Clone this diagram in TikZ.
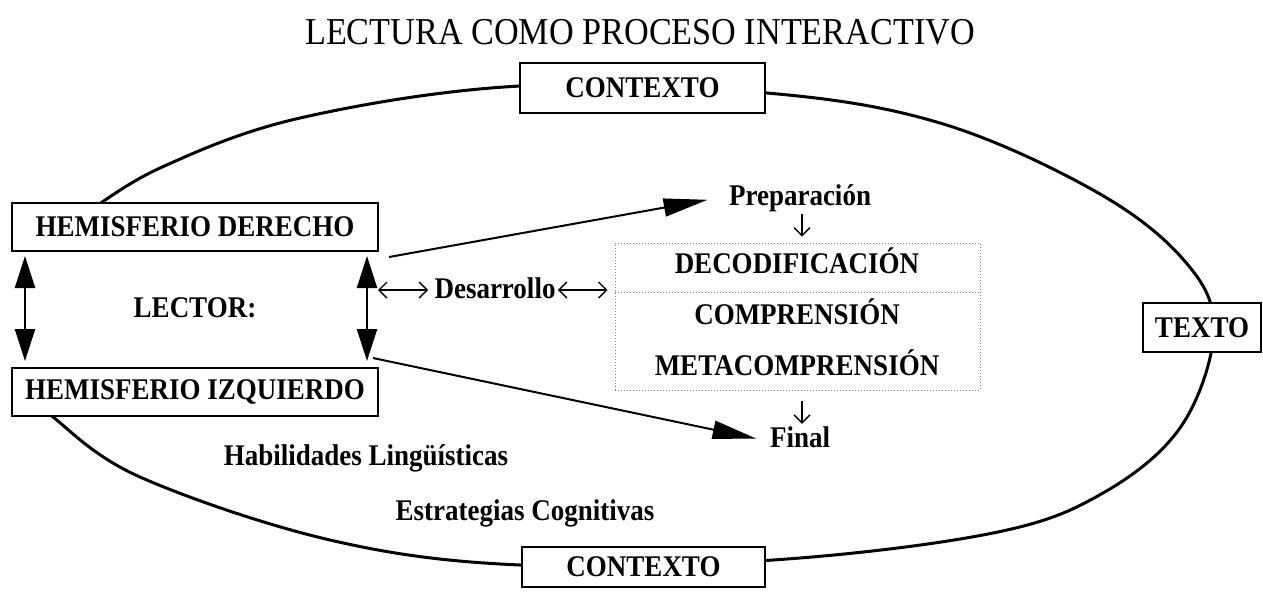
\documentclass[tikz,border=0pt]{standalone}
\usepackage{fontspec}
\setmainfont[FakeStretch=0.9]{Liberation Serif}
\usetikzlibrary{arrows.meta}
\begin{document}
\begin{tikzpicture}[x=.5pt,y=-.5pt,every node/.style={font=\bfseries\fontsize{15}{18}\selectfont,inner sep=0pt},
	caja/.style={draw,line width=1pt,fill=white},
	gruesa/.style={line width=1.2pt,{Triangle[length=16pt,width=10pt]}-{Triangle[length=16pt,width=10pt]}},
	larga/.style={line width=1pt,-{Triangle[length=22pt,width=9pt]}},
	fina/.style={line width=.7pt,-{Straight Barb[length=4pt,width=8pt]}},
	finas/.style={line width=.7pt,{Straight Barb[length=4pt,width=8pt]}-{Straight Barb[length=4pt,width=8pt]}},
	punteada/.style={draw=gray,densely dotted,line width=.5pt}]
		\useasboundingbox(0,0)rectangle(1263,591);
		% contexto (ovalo)
		\draw[line width=1.5pt]plot[smooth,tension=.6]coordinates{(86,214)(160,168)(300,118)(520,86)(767,93)(940,123)(1093,190)(1182,258)(1214,327)(1182,425)(1103,493)(993,533)(773,560)(520,565)(330,540)(140,477)(53,417)(40,400)};
		\node[font=\fontsize{19}{22}\selectfont,anchor=base](titulo)at(640,44){LECTURA COMO PROCESO INTERACTIVO};
		\node[caja,minimum width=122.5pt,minimum height=25pt](ctxa)at(642.5,88){CONTEXTO};
		\node[caja,minimum width=121.5pt,minimum height=20pt](ctxb)at(643.5,567){CONTEXTO};
		\node[caja,minimum width=59pt,minimum height=24.5pt](texto)at(1202,327.5){TEXTO};
		% lector
		\node[caja,minimum width=183pt,minimum height=24pt](der)at(195,227){HEMISFERIO DERECHO};
		\node[caja,minimum width=183pt,minimum height=24pt](izq)at(195,392){HEMISFERIO IZQUIERDO};
		\node[anchor=base](lector)at(195,317){LECTOR:};
		\draw[gruesa]([xshift=7pt,yshift=-2pt]der.south west)--([xshift=7pt,yshift=3pt]izq.north west);
		\draw[gruesa]([xshift=-6pt,yshift=-2pt]der.south east)--([xshift=-6pt,yshift=3pt]izq.north east);
		% proceso
		\node[punteada,minimum width=182.5pt,minimum height=73.5pt](proc)at(797.5,316.5){};
		\coordinate(div)at(0,292);
		\draw[punteada](proc.west|-div)--(proc.east|-div);
		\node[anchor=base](dec)at(797,273){DECODIFICACIÓN};
		\node[anchor=base](com)at(797,324){COMPRENSIÓN};
		\node[anchor=base](met)at(797,375){METACOMPRENSIÓN};
		\node[anchor=base](prep)at(800,205){Preparación};
		\node[anchor=base](fin)at(800,447){Final};
		\node[anchor=base](des)at(495,298){Desarrollo};
		\node[anchor=base](hab)at(366,465){Habilidades Lingüísticas};
		\node[anchor=base](est)at(525,520){Estrategias Cognitivas};
		\coordinate(s1)at(389,257);
		\coordinate(s2)at(373,358);
		\coordinate(rm)at(378,290);
		\draw[larga](s1)--([xshift=-10.5pt,yshift=-1pt]prep.west);
		\draw[larga](s2)--([xshift=-6.5pt,yshift=-1pt]fin.west);
		\draw[fina,shorten <=1pt,shorten >=3pt]([xshift=1pt]prep.south)--([xshift=1pt]prep.south|-proc.north);
		\draw[fina,shorten <=5pt,shorten >=1pt]([xshift=1pt]proc.south-|fin.north)--([xshift=1pt]fin.north);
		\draw[finas](rm)--([xshift=-3pt]des.west|-rm);
		\draw[finas]([xshift=1pt]des.east|-rm)--([xshift=-3.5pt]proc.west|-rm);
\end{tikzpicture}
\end{document}
